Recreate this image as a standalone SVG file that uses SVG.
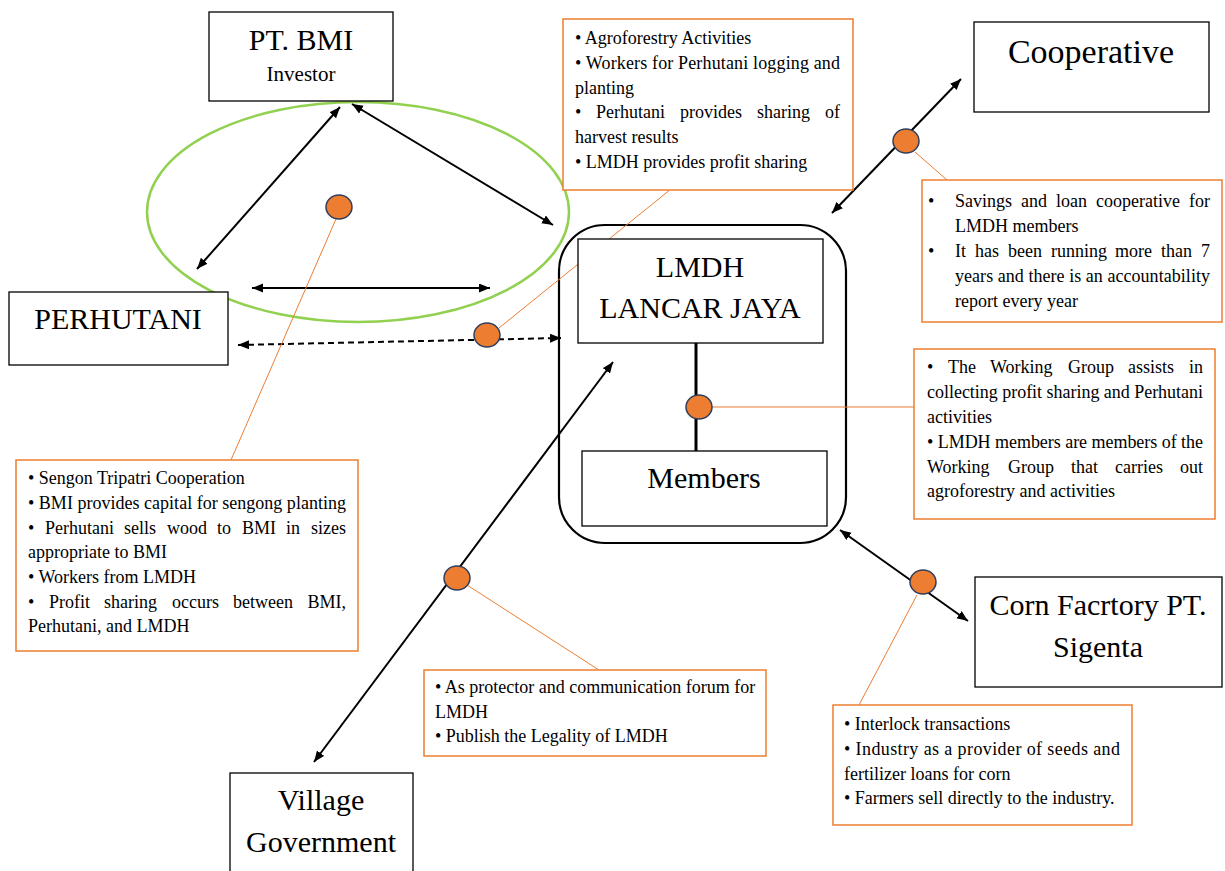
<svg xmlns="http://www.w3.org/2000/svg" width="1225" height="871" viewBox="0 0 1225 871">
<style>
text{font-family:"Liberation Serif","Times New Roman",serif;fill:#000}
.t30{font-size:30px;text-anchor:middle}
.b{font-size:18px}
.e{text-anchor:end}
.node{fill:#fff;stroke:#000;stroke-width:1.3}
.note{fill:#fff;stroke:#ED7D31;stroke-width:1.5}
.conn{stroke:#000;stroke-width:2;fill:none}
.lead{stroke:#ED7D31;stroke-width:1;fill:none}
.dot{fill:#ED7D31;stroke:#2F3E5C;stroke-width:1.5}
</style>
<defs>
<marker id="ah" markerUnits="userSpaceOnUse" markerWidth="12" markerHeight="10" refX="11" refY="4.5" orient="auto-start-reverse" viewBox="0 0 12 10">
<path d="M0,0 L11,4.5 L0,9 z" fill="#000"/>
</marker>
</defs>
<rect width="1225" height="871" fill="#fff"/>

<g id="tripatri-ellipse">
<ellipse cx="358" cy="212" rx="211" ry="110" fill="none" stroke="#92D050" stroke-width="2.5"/>
</g>

<g id="lmdh-group">
<rect x="559" y="225" width="287" height="318" rx="46" ry="46" fill="#fff" stroke="#000" stroke-width="2.2"/>
</g>

<g id="connectors">
<line class="conn" x1="340" y1="107" x2="197" y2="269" marker-start="url(#ah)" marker-end="url(#ah)"/>
<line class="conn" x1="352" y1="104" x2="553" y2="225" marker-start="url(#ah)" marker-end="url(#ah)"/>
<line class="conn" x1="252" y1="288" x2="490" y2="288" marker-start="url(#ah)" marker-end="url(#ah)"/>
<line class="conn" x1="238" y1="345" x2="561" y2="338" stroke-dasharray="6,4" marker-start="url(#ah)" marker-end="url(#ah)"/>
<line class="conn" x1="961" y1="79" x2="832" y2="213" marker-start="url(#ah)" marker-end="url(#ah)"/>
<line class="conn" x1="613" y1="362" x2="314" y2="762" marker-start="url(#ah)" marker-end="url(#ah)"/>
<line class="conn" x1="840" y1="530" x2="968" y2="621" marker-start="url(#ah)" marker-end="url(#ah)"/>
<line x1="696" y1="343" x2="696" y2="451" stroke="#000" stroke-width="3"/>
<line class="lead" x1="336" y1="219" x2="231" y2="460"/>
<line class="lead" x1="499" y1="328" x2="697" y2="168"/>
<line class="lead" x1="712" y1="407" x2="914" y2="407"/>
<line class="lead" x1="915" y1="152" x2="947" y2="180"/>
<line class="lead" x1="467" y1="585" x2="599" y2="670"/>
<line class="lead" x1="917" y1="595" x2="859" y2="705"/>
</g>

<g id="pt-bmi">
<rect class="node" x="209" y="12" width="184" height="89"/>
<text class="t30" x="301" y="50">PT. BMI</text>
<text x="301" y="81" style="font-size:21px;text-anchor:middle">Investor</text>
</g>

<g id="perhutani">
<rect class="node" x="9" y="292" width="219" height="73"/>
<text class="t30" x="118" y="329">PERHUTANI</text>
</g>

<g id="cooperative">
<rect class="node" x="974" y="22" width="235" height="90"/>
<text x="1091" y="63" style="font-size:34px;text-anchor:middle">Cooperative</text>
</g>

<g id="lmdh-lancar-jaya">
<rect class="node" x="578" y="239" width="245" height="104"/>
<text class="t30" x="700" y="277">LMDH</text>
<text class="t30" x="700" y="318">LANCAR JAYA</text>
</g>

<g id="members">
<rect class="node" x="582" y="451" width="245" height="75"/>
<text class="t30" x="704" y="488">Members</text>
</g>

<g id="corn-factory">
<rect class="node" x="975" y="577" width="247" height="110"/>
<text class="t30" x="1098" y="615">Corn Facrtory PT.</text>
<text class="t30" x="1098" y="657">Sigenta</text>
</g>

<g id="village-government">
<rect class="node" x="230" y="773" width="183" height="110"/>
<text class="t30" x="321" y="810">Village</text>
<text class="t30" x="321" y="852">Government</text>
</g>

<g id="dots">
<ellipse class="dot" cx="339" cy="207" rx="13" ry="12"/>
<ellipse class="dot" cx="487" cy="335" rx="13" ry="12"/>
<ellipse class="dot" cx="699" cy="407" rx="13" ry="12"/>
<ellipse class="dot" cx="906" cy="141" rx="13" ry="12"/>
<ellipse class="dot" cx="457" cy="578" rx="13" ry="12"/>
<ellipse class="dot" cx="923" cy="582" rx="13" ry="12"/>
</g>

<g id="note-agroforestry">
<rect class="note" x="563" y="19" width="290" height="171"/>
<text class="b" x="575" y="44">• Agroforestry Activities</text>
<text class="b" x="575" y="69" textLength="265" lengthAdjust="spacing">• Workers for Perhutani logging and</text>
<text class="b" x="575" y="94">planting</text>
<text class="b" y="118"><tspan x="575">•</tspan><tspan x="596">Perhutani</tspan><tspan x="680">provides</tspan><tspan x="757">sharing</tspan></text>
<text class="b e" x="840" y="118">of</text>
<text class="b" x="575" y="143">harvest results</text>
<text class="b" x="575" y="168">• LMDH provides profit sharing</text>
</g>

<g id="note-cooperative">
<rect class="note" x="922" y="180" width="300" height="142"/>
<text class="b" x="928" y="207">•</text>
<text class="b" y="207"><tspan x="955">Savings</tspan><tspan x="1021">and</tspan><tspan x="1056">loan</tspan><tspan x="1096">cooperative</tspan></text>
<text class="b e" x="1210" y="207">for</text>
<text class="b" x="955" y="232">LMDH members</text>
<text class="b" x="928" y="257">•</text>
<text class="b" y="257"><tspan x="955">It</tspan><tspan x="975">has</tspan><tspan x="1008">been</tspan><tspan x="1051">running</tspan><tspan x="1115">more</tspan><tspan x="1161">than</tspan></text>
<text class="b e" x="1210" y="257">7</text>
<text class="b" x="955" y="282" textLength="255" lengthAdjust="spacing">years and there is an accountability</text>
<text class="b" x="955" y="307">report every year</text>
</g>

<g id="note-working-group">
<rect class="note" x="914" y="349" width="301" height="170"/>
<text class="b" y="373"><tspan x="927">•</tspan><tspan x="948">The</tspan><tspan x="990">Working</tspan><tspan x="1068">Group</tspan><tspan x="1128">assists</tspan></text>
<text class="b e" x="1203" y="373">in</text>
<text class="b" x="927" y="398" textLength="276" lengthAdjust="spacing">collecting profit sharing and Perhutani</text>
<text class="b" x="927" y="423">activities</text>
<text class="b" x="927" y="448" textLength="276" lengthAdjust="spacing">• LMDH members are members of the</text>
<text class="b" y="473"><tspan x="927">Working</tspan><tspan x="1008">Group</tspan><tspan x="1071">that</tspan><tspan x="1115">carries</tspan></text>
<text class="b e" x="1203" y="473">out</text>
<text class="b" x="927" y="497">agroforestry and activities</text>
</g>

<g id="note-tripatri">
<rect class="note" x="16" y="460" width="342" height="191"/>
<text class="b" x="28" y="484">• Sengon Tripatri Cooperation</text>
<text class="b" x="28" y="509" textLength="318" lengthAdjust="spacing">• BMI provides capital for sengong planting</text>
<text class="b" y="534"><tspan x="28">•</tspan><tspan x="45">Perhutani</tspan><tspan x="124">sells</tspan><tspan x="167">wood</tspan><tspan x="217">to</tspan><tspan x="242">BMI</tspan><tspan x="286">in</tspan></text>
<text class="b e" x="346" y="534">sizes</text>
<text class="b" x="28" y="558">appropriate to BMI</text>
<text class="b" x="28" y="583">• Workers from LMDH</text>
<text class="b" y="608"><tspan x="28">•</tspan><tspan x="49">Profit</tspan><tspan x="104">sharing</tspan><tspan x="172">occurs</tspan><tspan x="233">between</tspan></text>
<text class="b e" x="346" y="608">BMI,</text>
<text class="b" x="28" y="632">Perhutani, and LMDH</text>
</g>

<g id="note-village">
<rect class="note" x="424" y="670" width="342" height="86"/>
<text class="b" x="435" y="693">• As protector and communication forum for</text>
<text class="b" x="435" y="718">LMDH</text>
<text class="b" x="435" y="742">• Publish the Legality of LMDH</text>
</g>

<g id="note-corn">
<rect class="note" x="833" y="705" width="299" height="120"/>
<text class="b" x="844" y="730">• Interlock transactions</text>
<text class="b" x="844" y="755" textLength="276" lengthAdjust="spacing">• Industry as a provider of seeds and</text>
<text class="b" x="844" y="780">fertilizer loans for corn</text>
<text class="b" x="844" y="804">• Farmers sell directly to the industry.</text>
</g>
</svg>
